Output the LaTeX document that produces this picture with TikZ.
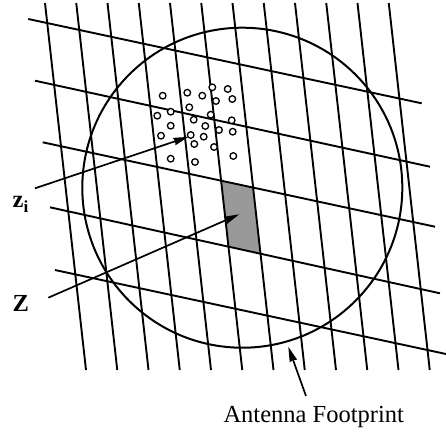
\documentclass[tikz,border=0pt]{standalone}
\usepackage{fontspec}
\setmainfont{Liberation Serif}
\usetikzlibrary{arrows.meta}
\begin{document}
\begin{tikzpicture}[x=1pt,y=-1pt,
  gridline/.style={line width=1.9pt,black},
  footprint/.style={line width=2pt,black},
  dotmark/.style={line width=1.3pt,fill=white,draw=black},
  pointer/.style={line width=1.7pt,-{Stealth[length=15pt,width=7.5pt,inset=1pt]}},
  lbl/.style={inner sep=0pt,font=\fontsize{24.5}{24.5}\selectfont\bfseries},
  caption/.style={inner sep=0pt,font=\fontsize{24.5}{24.5}\selectfont}]
\useasboundingbox (0,0) rectangle (446,432);
\foreach \k in {0,...,11}{
  \coordinate (vt\k) at ({45+31.25*\k},3);
  \coordinate (vb\k) at ({86+31.25*\k},370);
}
\coordinate (ha1) at (28.3,19);   \coordinate (hb1) at (421.7,103.3);
\coordinate (ha2) at (35,80.7);   \coordinate (hb2) at (430,166.7);
\coordinate (ha3) at (42.7,142.3);\coordinate (hb3) at (435,226.7);
\coordinate (ha4) at (50,207.3);  \coordinate (hb4) at (440,293.3);
\coordinate (ha5) at (55,270);    \coordinate (hb5) at (446,354);
% shaded cell
\fill[black!40] (intersection of vt5--vb5 and ha3--hb3) --
  (intersection of vt6--vb6 and ha3--hb3) --
  (intersection of vt6--vb6 and ha4--hb4) --
  (intersection of vt5--vb5 and ha4--hb4) -- cycle;
% grid
\foreach \k in {0,...,11}{ \draw[gridline] (vt\k) -- (vb\k); }
\foreach \k in {1,...,5}{ \draw[gridline] (ha\k) -- (hb\k); }
% footprint
\draw[footprint] (242.3,187.7) circle[radius=160];
% dots
\foreach \p in {(162.7,95.7),(187.3,92.7),(202.3,95.7),(212.3,87.3),(227.7,89),
  (216,101),(232.3,99),(189.3,107.3),(170.7,111.7),(157.3,115.7),(210.7,114.7),
  (193.7,119.7),(231.7,120.3),(170.7,125.7),(205.3,126),(219,130),(232.7,131.7),
  (161,135.7),(190.7,135),(203.7,136.7),(194.3,144),(214,147),(233.3,156),
  (170.7,158.7),(195,162)}{
  \draw[dotmark] \p circle[radius=3.3];
}
% labels
\node[lbl,anchor=base west] (zi) at (12.5,207.3) {z\raisebox{-5pt}{\fontsize{17}{17}\selectfont i}};
\node[lbl,anchor=base west] (Z) at (12.5,311.7) {Z};
\node[caption,anchor=base] (AF) at (313.7,422.3) {Antenna Footprint};
% arrows
\coordinate (zis) at (35,188.3);   \coordinate (zit) at (188.5,136.8);
\coordinate (Zs) at (48.3,297.7);  \coordinate (Zt) at (239.3,214.3);
\coordinate (AFs) at (306,396);    \coordinate (AFt) at (288.3,346.7);
\draw[pointer] (zis) -- (zit);
\draw[pointer] (Zs) -- (Zt);
\draw[pointer] (AFs) -- (AFt);
\end{tikzpicture}
\end{document}
